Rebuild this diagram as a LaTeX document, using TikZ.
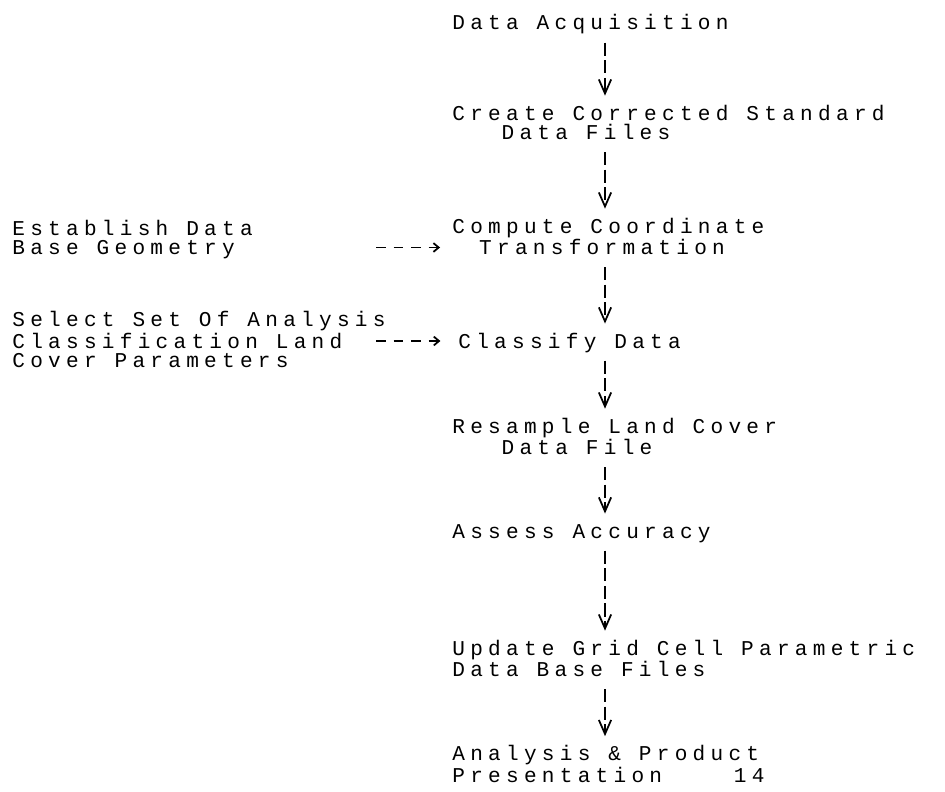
\documentclass[tikz,border=0pt]{standalone}
\usepackage{fontspec}
\setmonofont{Liberation Mono}[LetterSpace=25]
\usepackage{tikz}
\usetikzlibrary{positioning,arrows.meta,calc}
\newlength\cw
\setlength\cw{10.2pt}
\tikzset{
  txt/.style={inner sep=0pt, anchor=base west, align=left, font=\ttfamily\fontsize{12pt}{11.05pt}\selectfont, execute at begin node=\vphantom{dy}, execute at end node=\vphantom{dy}},
  vflow/.style={line width=1pt, dash pattern=on 7.5pt off 2.5pt, -{Straight Barb[length=8pt,width=7pt,sep=2pt]}, shorten <=4.5pt, shorten >=3pt},
  hflow/.style={line width=1pt, dash pattern=on 5.5pt off 4.5pt, -{Straight Barb[length=3pt,width=5pt]}},
}

\begin{document}
\begin{tikzpicture}[x=0.02cm, y=-0.02cm]
\useasboundingbox (0,0) rectangle (945,791);
\node[txt] (acq) at (452,30) {Data Acquisition};
\node[txt] (csdf) at (452,139.5) {Create Corrected Standard\\\hspace*{2.75\cw}Data Files};
\node[txt] (cct) at (452,254.5) {Compute Coordinate\\\hspace*{1.5\cw}Transformation};
\node[txt] (est) at (12,254.5) {Establish Data\\Base Geometry};
\node[txt] (cls) at (458,348) {Classify Data};
\node[txt] (sel) at (12,367.5) {Select Set Of Analysis\\Classification Land\\Cover Parameters};
\node[txt] (res) at (452,454.5) {Resample Land Cover\\\hspace*{2.75\cw}Data File};
\node[txt] (acc) at (452,538) {Assess Accuracy};
\node[txt] (upd) at (452,676.5) {Update Grid Cell Parametric\\Data Base Files};
\node[txt] (ana) at (452,782) {Analysis \& Product\\Presentation\hspace{4\cw}14};

\coordinate (col) at (605,0);
\draw[vflow] (acq.south -| col) -- (csdf.north -| col);
\draw[vflow] (csdf.south -| col) -- (cct.north -| col);
\draw[vflow] (cct.south -| col) -- (cls.north -| col);
\draw[vflow] (cls.south -| col) -- (res.north -| col);
\draw[vflow] (res.south -| col) -- (acc.north -| col);
\draw[vflow] (acc.south -| col) -- (upd.north -| col);
\draw[vflow] (upd.south -| col) -- (ana.north -| col);

\coordinate (est-out) at (376,247.5);
\coordinate (sel-out) at (376,341);
\draw[hflow, shorten >=6.8pt] (est-out) -- (est-out -| cct.west);
\draw[hflow, shorten >=10pt] (sel-out) -- (sel-out -| cls.west);
\end{tikzpicture}
\end{document}
